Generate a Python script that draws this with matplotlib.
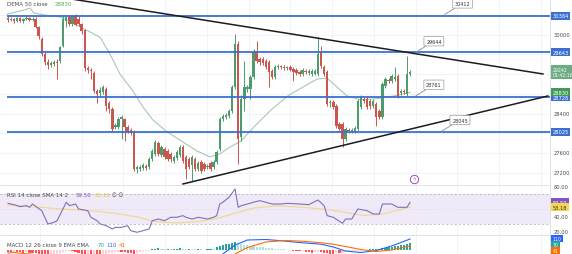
import matplotlib
matplotlib.use("Agg")
import matplotlib.pyplot as plt
import numpy as np

# ---------------- price candles (4h) ----------------
opens = [30340, 30300, 30320, 30280, 30340, 30280, 30320, 30340, 30300, 30320,
         30160, 29910, 29610, 29450, 29390, 29410, 29450, 29470, 29770, 30280,
         30360, 30220, 30380, 30320, 30220, 30100, 29320, 29280, 29220, 28860,
         28820, 28840, 28900, 28610, 28490, 28130, 28130, 28290, 28290, 28130,
         28070, 28030, 27270, 27270, 27290, 27330, 27310, 27480, 27580, 27800,
         27560, 27680, 27640, 27580, 27440, 27500, 27560, 27720, 27520, 27480,
         27360, 27480, 27270, 27420, 27380, 27310, 27400, 27310, 27420, 27680,
         28290, 28330, 28350, 28450, 28940, 29810, 27920, 28700, 28900, 28900,
         29140, 29670, 29510, 29510, 29470, 29450, 29260, 29140, 29350, 29370,
         29350, 29320, 29350, 29300, 29280, 29240, 29200, 29260, 29220, 29200,
         29200, 29200, 29650, 29350, 29240, 28610, 28630, 28550, 28190, 28190,
         27880, 28070, 28050, 28050, 28090, 28530, 28700, 28700, 28650, 28550,
         28590, 28450, 28330, 28960, 29080, 29060, 29100, 29160, 28820, 28860,
         28800, 29200]
highs = [30380, 30360, 30340, 30360, 30360, 30340, 30380, 30360, 30360, 30360,
         30180, 29950, 29650, 29510, 29470, 29490, 29510, 29770, 30380, 30400,
         30400, 30400, 30420, 30380, 30240, 30120, 29370, 29320, 29260, 28900,
         28940, 28980, 28940, 28650, 28530, 28210, 28330, 28370, 28310, 28170,
         28110, 28070, 27360, 27360, 27400, 27380, 27520, 27680, 27860, 27840,
         27760, 27720, 27680, 27620, 27560, 27660, 27760, 27760, 27560, 27520,
         27560, 27520, 27440, 27460, 27420, 27380, 27440, 27460, 27660, 28330,
         28390, 28410, 28490, 28980, 30010, 29870, 28780, 29470, 28980, 29180,
         29710, 29870, 29550, 29550, 29510, 29490, 29300, 29390, 29410, 29390,
         29390, 29370, 29390, 29350, 29320, 29280, 29320, 29300, 29300, 29300,
         29300, 29950, 29770, 29390, 29280, 28680, 28680, 28590, 28230, 28230,
         28130, 28110, 28110, 28150, 28700, 28780, 28740, 28740, 28700, 28700,
         28630, 28490, 29040, 29140, 29120, 29200, 29350, 29200, 28900, 28900,
         29570, 29280]
lows = [30260, 30280, 30240, 30260, 30260, 30240, 30300, 30280, 30280, 30140,
        29910, 29570, 29390, 29300, 29350, 29370, 29100, 29430, 29750, 30160,
        30180, 30180, 30180, 30180, 30010, 29260, 29220, 29100, 28820, 28610,
        28760, 28800, 28450, 28410, 28050, 28090, 28090, 27880, 27840, 28000,
        27960, 27230, 27190, 27230, 27250, 27250, 27270, 27440, 27540, 27540,
        27520, 27480, 27440, 27420, 27400, 27460, 27520, 27400, 27070, 27270,
        27030, 27230, 27230, 27190, 27230, 27270, 27230, 27270, 27380, 27640,
        28250, 28290, 28310, 28410, 28900, 27380, 27840, 28450, 28840, 28700,
        29100, 29430, 29390, 29390, 29300, 28940, 29100, 29100, 29300, 29300,
        29280, 29280, 29260, 29060, 29180, 29160, 29160, 29200, 29180, 29160,
        29180, 29160, 29320, 29160, 28550, 28530, 28490, 28110, 28050, 27720,
        27840, 28000, 28000, 28000, 28050, 28490, 28610, 28490, 28490, 28510,
        28150, 28290, 28290, 28920, 29020, 29020, 29060, 28720, 28780, 28800,
        28760, 29160]
closes = [30300, 30320, 30280, 30340, 30280, 30320, 30340, 30300, 30320, 30160,
          29970, 29610, 29450, 29390, 29430, 29450, 29430, 29750, 30320, 30360,
          30220, 30380, 30200, 30220, 30080, 29320, 29280, 29260, 28860, 28800,
          28880, 28940, 28550, 28490, 28090, 28170, 28290, 28330, 28130, 28050,
          28000, 27270, 27310, 27310, 27360, 27290, 27480, 27640, 27820, 27580,
          27720, 27520, 27480, 27480, 27520, 27620, 27720, 27440, 27270, 27310,
          27520, 27270, 27400, 27230, 27270, 27330, 27270, 27420, 27620, 28290,
          28350, 28370, 28450, 28940, 29810, 27880, 28700, 28940, 28940, 29140,
          29650, 29470, 29450, 29430, 29350, 29240, 29140, 29350, 29370, 29350,
          29320, 29350, 29280, 29240, 29220, 29200, 29280, 29240, 29260, 29260,
          29260, 29610, 29370, 29200, 28590, 28630, 28530, 28150, 28090, 27880,
          28090, 28050, 28070, 28110, 28650, 28740, 28650, 28530, 28550, 28650,
          28330, 28330, 29000, 29100, 29060, 29160, 29140, 28760, 28860, 28840,
          29200, 29240]

# DEMA 50 (bar index, value)
dema_idx = [-0.3, 4, 7.2, 8.5, 13, 16.9, 18.6, 23.5, 30.0, 33.2, 36.5, 40.7, 44.0,
            47.2, 51.8, 57.0, 61.6, 65.8, 69.1, 72.3, 75.9, 80.5, 86.0, 91.2,
            96.7, 100.7, 103.9, 107.2, 110.4, 114.7, 120.2, 126.1, 131.0]
dema_val = [30420, 30480, 30540, 30440, 30390, 30360, 30320, 30160, 29950, 29610,
            29200, 28860, 28530, 28270, 28030, 27820, 27640, 27520, 27580, 27720,
            27840, 28150, 28490, 28760, 28960, 29100, 29120, 28940, 28760, 28680,
            28700, 28760, 28830]

levels = [30384, 29643, 28728, 28025]
upper_trend_x = [20.2, 174.3]
upper_trend_y = [30730, 29203]
lower_trend_x = [57.0, 175.9]
lower_trend_y = [26970, 28756]

note_idx = [142.3, 132.9, 132.9, 141.4]
note_val = [30412, 29644, 28761, 28045]

price_ticks = [30000, 28400, 27600, 27200]
last_price = 29242
bar_countdown = "01:42:16"
dema_last = 28830
event_idx, event_price = 132.2, 27071

# RSI 14 and its SMA 14
rsi_idx = [0, 2, 4, 6, 7, 8, 11, 13, 15, 16, 19, 20, 22, 23, 26, 27, 29, 30, 32, 34,
           35, 37, 39, 40, 42, 44, 46, 47, 49, 51, 53, 55, 57, 58, 60, 62, 65, 67,
           68, 69, 70, 72, 74, 75, 76, 78, 80, 82, 84, 86, 89, 91, 95, 98, 101,
           103, 104, 106, 109, 110, 112, 114, 117, 119, 121, 122, 125, 127, 128,
           130, 131]
rsi_val = [58.2, 56.4, 53.8, 55.1, 52.9, 57.3, 48.4, 30.7, 32.9, 35.1, 59.6, 55.1,
           57.3, 50.7, 48.4, 39.6, 35.1, 30.7, 28.4, 24.0, 26.2, 26.2, 28.4, 21.8,
           19.6, 21.8, 24.0, 35.1, 37.3, 35.1, 39.6, 39.6, 41.8, 39.6, 37.3, 39.6,
           37.3, 39.6, 41.8, 57.3, 59.6, 66.2, 77.3, 52.9, 55.1, 57.3, 59.6, 61.8,
           59.6, 57.3, 57.3, 58.2, 57.3, 56.4, 62.7, 55.1, 41.8, 39.6, 31.6, 37.3,
           37.3, 50.7, 48.4, 44.0, 44.0, 57.3, 57.3, 52.9, 52.9, 52.9, 59.5]
rsi_ma_idx = [0, 10, 20, 28, 35, 42, 48, 55, 62, 68, 74, 80, 88, 96, 104, 110, 116,
              122, 128, 131]
rsi_ma_val = [56, 53, 50, 48, 45, 40, 34, 32, 34, 38, 45, 52, 55, 53, 50, 46, 42,
              44, 50, 53.18]
rsi_levels = [80.00, 40.00, 20.00]

# MACD 12 26 9
macd_hist = [-20, -20, -15, -15, -20, -25, -20, -25, -30, -30,
             -40, -45, -50, -55, -50, -45, -40, -30,
             -20, -10, -5, -10, -20,
             -30, -40, -45, -40, -40, -35, -40, -45, -40, -35, -30,
             -25, -20, -15, -15, -20,
             -25, -30, -35, -30,
             -15, -10, -8, -5,
             10, 15, 20, 15, 10, 12,
             8, 10,
             15, 18, 12,
             8,
             12, 10, 8, 10,
             6, 5,
             10, 12, 10,
             30, 40, 55, 60, 65, 75, 80, 70,
             60, 55, 50, 45, 40, 35, 30, 28, 25,
             20, 18, 15, 12, 10, 8, 5, 3,
             -5, -10, -12, -10, -15,
             -20, -25, -20, -15, -20, -25, -30,
             -35, -35, -30, -30, -25, -20,
             -15, -12, -10, -8, -5, -3, 5,
             10, 12, 15, 15,
             20, 25, 30, 35, 40, 45,
             50, 55, 62, 70]
macd_idx = [0, 10, 20, 30, 40, 50, 60, 66, 70, 74, 78, 84, 90, 96, 102, 106, 110,
            115, 120, 125, 131]
macd_line = [-40, -90, -110, -180, -260, -240, -170, -110, -40, 50, 100, 105, 90,
             72, 58, 30, -10, -25, -5, 40, 110]
signal_line = [-20, -50, -80, -130, -200, -230, -200, -160, -110, -40, 25, 80,
               95, 88, 72, 58, 35, 5, -15, 0, 41]

# ---------------- styling ----------------
UP, DOWN = "#4d9c6c", "#cb564e"
LEVEL_BLUE = "#3b6fd4"
GRID = "#eef1f6"
SEP = "#d9dce3"
AXTXT = "#4a4a4a"

W, H = 572, 255
fig = plt.figure(figsize=(W / 100, H / 100), dpi=100)
fig.patch.set_facecolor("white")


def box(x0, y0, x1, y1):
    return [x0 / W, 1 - y1 / H, (x1 - x0) / W, (y1 - y0) / H]


ax = fig.add_axes(box(0, 0, 550, 186))
ax_rsi = fig.add_axes(box(0, 187, 550, 236))
ax_macd = fig.add_axes(box(0, 237, 550, 255))

XMIN, XMAX = -2.6, 176.6
vgrid = np.arange(10.4, XMAX, 13.6)

for a in (ax, ax_rsi, ax_macd):
    a.set_xlim(XMIN, XMAX)
    a.set_xticks([])
    a.set_yticks([])
    for s in ("left", "top"):
        a.spines[s].set_visible(False)
    for s in ("right", "bottom"):
        a.spines[s].set_color(SEP)
        a.spines[s].set_linewidth(0.6)
    for xv in vgrid:
        a.axvline(xv, color=GRID, lw=0.6, zorder=0)
ax_macd.spines["bottom"].set_visible(False)

# ---------------- main price pane ----------------
ax.set_ylim(26949, 30725)
for p in range(27200, 30401, 400):
    ax.axhline(p, color=GRID, lw=0.6, zorder=0)

o = np.array(opens, float)
h = np.array(highs, float)
l = np.array(lows, float)
c = np.array(closes, float)
idx = np.arange(len(o))
cols = np.where(c >= o, UP, DOWN)
ax.vlines(idx, l, h, colors=cols, lw=0.7, zorder=3)
ax.bar(idx, np.maximum(np.abs(c - o), 16), bottom=np.minimum(o, c), width=0.78,
       color=cols, lw=0, zorder=4)

ax.plot(dema_idx, dema_val, color="#a9c8b2", lw=0.8, zorder=2)

ax.hlines(levels, -0.3, XMAX, color=LEVEL_BLUE, lw=1.3, zorder=5)
ax.plot(upper_trend_x, upper_trend_y, color="#1c1c1c", lw=1.1, zorder=6)
ax.plot(lower_trend_x, lower_trend_y, color="#1c1c1c", lw=1.1, zorder=6)

for xi, v in zip(note_idx, note_val):
    ax.annotate(f"{v}", xy=(xi, v), xytext=(18, 11), textcoords="offset pixels",
                fontsize=3.5, color="#333333", ha="center", va="center",
                bbox=dict(boxstyle="round,pad=0.45,rounding_size=0.15",
                          fc="white", ec="#9a9a9a", lw=0.5),
                arrowprops=dict(arrowstyle="-", color="#9a9a9a", lw=0.7,
                                shrinkA=0, shrinkB=0),
                zorder=8, annotation_clip=False)

ax.plot(event_idx, event_price, "o", ms=6, mfc="white", mec="#a34bc4", mew=0.7,
        zorder=7)
ax.text(event_idx, event_price, "ϟ", fontsize=3.5, color="#a34bc4", ha="center",
        va="center", zorder=8)

XT = 1 + 2.5 / 550


def plain(a, y, s):
    a.text(XT + 1 / 550, y, s, transform=a.get_yaxis_transform(), fontsize=3.7,
           color=AXTXT, va="center", ha="left", clip_on=False)


def tag(a, y, s, fc, tc="white", fs=3.7, trans=None):
    a.text(XT, y, s, transform=trans or a.get_yaxis_transform(), fontsize=fs,
           color=tc, va="center", ha="left", clip_on=False, linespacing=1.1,
           bbox=dict(boxstyle="square,pad=0.3", fc=fc, ec="none"), zorder=10)


for p in price_ticks:
    plain(ax, p, f"{p}")
for lv in levels:
    tag(ax, lv, f"{lv}", LEVEL_BLUE)
tag(ax, last_price, f"{last_price}\n{bar_countdown}", "#6dab83", fs=3.3)
tag(ax, dema_last, f"{dema_last}", "#3f9c55")

fig.text(7 / W, 1 - 4.5 / H, "DEMA 50 close", fontsize=4, color=AXTXT,
         va="center", ha="left")
fig.text(55 / W, 1 - 4.5 / H, f"{dema_last}", fontsize=4, color="#4caf50",
         va="center", ha="left")

# ---------------- RSI pane ----------------
ax_rsi.set_ylim(16, 81.3)
ax_rsi.axhspan(30, 70, color="#efe9f8", lw=0, zorder=0)
for lv, st in ((70, (0, (3, 3))), (30, (0, (3, 3))), (50, (0, (1, 3)))):
    ax_rsi.axhline(lv, color="#9ea1aa", lw=0.5, ls=st, zorder=1,
                   alpha=0.9 if lv != 50 else 0.4)
ax_rsi.plot(rsi_ma_idx, rsi_ma_val, color="#f2d25a", lw=0.8, alpha=0.7, zorder=2)
ax_rsi.plot(rsi_idx, rsi_val, color="#7e72b8", lw=0.8, zorder=3)

for lv in rsi_levels:
    plain(ax_rsi, lv, f"{lv:.2f}")
tag(ax_rsi, rsi_val[-1], f"{rsi_val[-1]:.2f}", "#7e57c2")
tag(ax_rsi, rsi_ma_val[-1], f"{rsi_ma_val[-1]:.2f}", "#f7d64a", tc="#333333")

fig.text(7 / W, 1 - 195.5 / H, "RSI 14 close SMA 14 2", fontsize=4, color=AXTXT,
         va="center", ha="left")
fig.text(76 / W, 1 - 195.5 / H, f"{rsi_val[-1]:.2f}", fontsize=4, color="#7e57c2",
         va="center", ha="left")
fig.text(95 / W, 1 - 195.5 / H, f"{rsi_ma_val[-1]:.2f}", fontsize=4,
         color="#e6c43a", va="center", ha="left")
fig.text(112 / W, 1 - 195.5 / H, "∅ ∅", fontsize=4, color=AXTXT, va="center",
         ha="left")

# ---------------- MACD pane ----------------
ax_macd.set_ylim(-40, 140)
hist = np.array(macd_hist, float)
prev = np.concatenate([[hist[0]], hist[:-1]])
hcols = np.where(hist >= 0, np.where(hist >= prev, "#26a69a", "#b2dfdb"),
                 np.where(hist <= prev, "#ff5252", "#ffcdd2"))
ax_macd.bar(np.arange(len(hist)), hist, width=0.7, color=hcols, lw=0, zorder=2)
ax_macd.plot(macd_idx, macd_line, color="#2962ff", lw=0.8, zorder=3)
ax_macd.plot(macd_idx, signal_line, color="#ff6d00", lw=0.8, zorder=3)

# stacked value tags, pushed apart so they do not overlap
mtr = ax_macd.transAxes
tag(ax_macd, 1 - 2.5 / 18, f"{macd_line[-1]}", "#2962ff", trans=mtr, fs=3.3)
tag(ax_macd, 1 - 9 / 18, f"{macd_hist[-1]}", "#26a69a", trans=mtr, fs=3.3)
tag(ax_macd, 1 - 15 / 18, f"{signal_line[-1]}", "#ff6d00", trans=mtr, fs=3.3)

fig.text(7 / W, 1 - 246 / H, "MACD 12 26 close 9 EMA EMA", fontsize=4,
         color=AXTXT, va="center", ha="left")
fig.text(98 / W, 1 - 246 / H, f"{macd_hist[-1]}", fontsize=4, color="#26a69a",
         va="center", ha="left")
fig.text(106 / W, 1 - 246 / H, f"{macd_line[-1]}", fontsize=4, color="#2962ff",
         va="center", ha="left")
fig.text(119 / W, 1 - 246 / H, f"{signal_line[-1]}", fontsize=4, color="#ff6d00",
         va="center", ha="left")

fig.savefig("out.png", dpi=100, facecolor="white")
